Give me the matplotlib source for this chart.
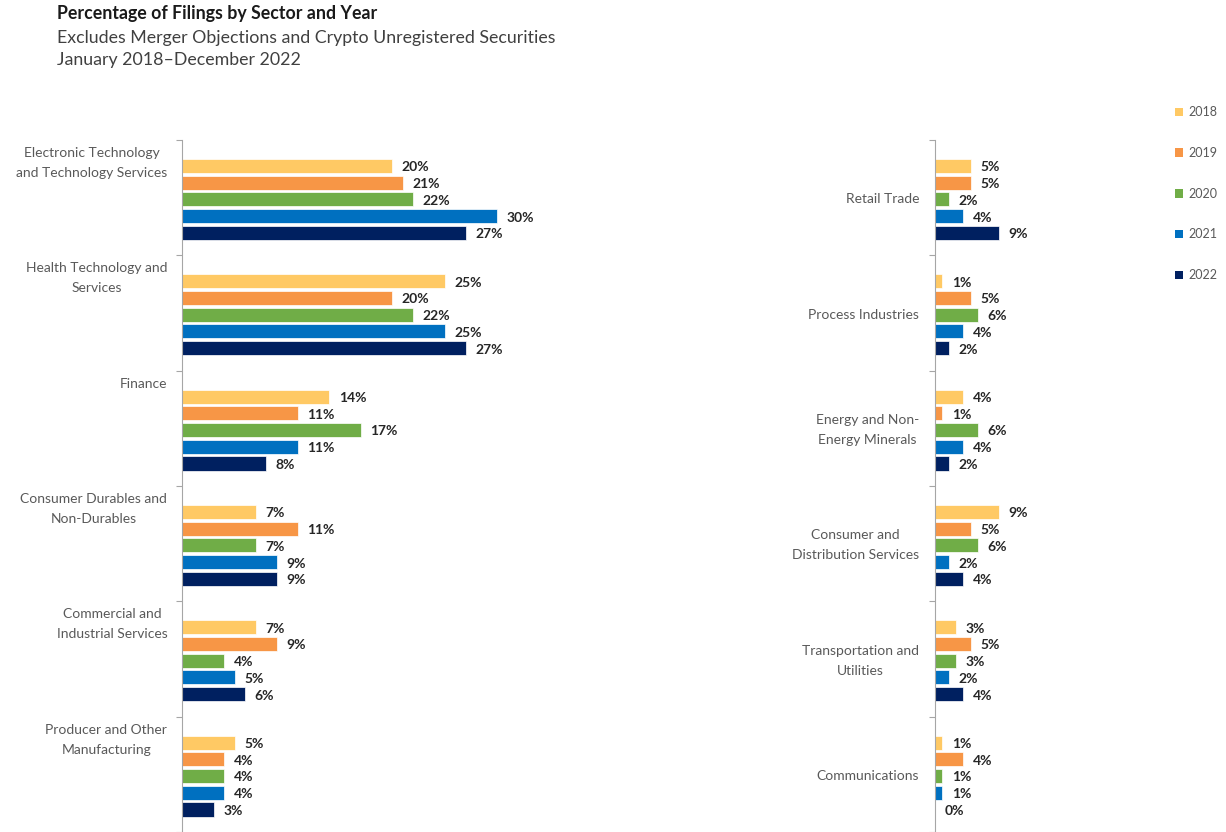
import matplotlib.pyplot as plt
from matplotlib.patches import Patch

# Sector share of filings (%), one list per year
years = ['2018', '2019', '2020', '2021', '2022']
colors = ['#FFC964', '#F79646', '#70AD47', '#0070C0', '#002060']

left_sectors = ['Electronic Technology\nand Technology Services',
                'Health Technology and\nServices',
                'Finance',
                'Consumer Durables and\nNon-Durables',
                'Commercial and\nIndustrial Services',
                'Producer and Other\nManufacturing']
left_2018 = [20, 25, 14, 7, 7, 5]
left_2019 = [21, 20, 11, 11, 9, 4]
left_2020 = [22, 22, 17, 7, 4, 4]
left_2021 = [30, 25, 11, 9, 5, 4]
left_2022 = [27, 27, 8, 9, 6, 3]

right_sectors = ['Retail Trade',
                 'Process Industries',
                 'Energy and Non-\nEnergy Minerals',
                 'Consumer and\nDistribution Services',
                 'Transportation and\nUtilities',
                 'Communications']
right_2018 = [5, 1, 4, 9, 3, 1]
right_2019 = [5, 5, 1, 5, 5, 4]
right_2020 = [2, 6, 6, 6, 3, 1]
right_2021 = [4, 4, 4, 2, 2, 1]
right_2022 = [9, 2, 2, 4, 4, 0]

left_values = [left_2018, left_2019, left_2020, left_2021, left_2022]
right_values = [right_2018, right_2019, right_2020, right_2021, right_2022]

plt.rcParams['font.family'] = ['Lato', 'DejaVu Sans']

fig = plt.figure(figsize=(12.26, 8.32), dpi=100)
W, H = 1226, 832

ax_left = fig.add_axes([182 / W, 0.0, 420 / W, 692 / H])
ax_right = fig.add_axes([935 / W, 0.0, 213 / W, 692 / H])

first_offset = 0.225
step = 0.145
bar_h = 0.122


def draw_panel(ax, sectors, values, xmax, label_mode):
    n = len(sectors)
    for j, (yr, col) in enumerate(zip(years, colors)):
        ys = [i + first_offset + j * step for i in range(n)]
        ax.barh(ys, values[j], height=bar_h, color=col,
                edgecolor='white', linewidth=0.5)
        for y, v in zip(ys, values[j]):
            ax.annotate(f'{v}%', xy=(v, y), xytext=(7, -1),
                        textcoords='offset points', ha='left', va='center',
                        fontsize=10, fontweight='bold', color='#262626')
    ax.set_xlim(0, xmax)
    ax.set_ylim(n, 0)
    for s in ['top', 'right', 'bottom']:
        ax.spines[s].set_visible(False)
    ax.spines['left'].set_color('#A6A6A6')
    ax.set_xticks([])
    ax.set_yticks(range(n + 1))
    ax.set_yticklabels([])
    ax.tick_params(axis='y', direction='out', length=4, color='#A6A6A6')
    for i, name in enumerate(sectors):
        if label_mode == 'top':
            ax.text(-0.035, i + 0.06, name, transform=ax.get_yaxis_transform(),
                    ha='right', va='top', fontsize=10, color='#595959',
                    multialignment='center', linespacing=1.8)
        else:
            ax.text(-0.075, i + first_offset + 2 * step, name,
                    transform=ax.get_yaxis_transform(),
                    ha='right', va='center', fontsize=10, color='#595959',
                    multialignment='center', linespacing=1.8)


draw_panel(ax_left, left_sectors, left_values, 40, 'top')
draw_panel(ax_right, right_sectors, right_values, 30, 'center')

# Titles
fig.text(57 / W, 1 - 14 / H, 'Percentage of Filings by Sector and Year',
         fontsize=12.8, fontweight='bold', color='#1a1a1a', va='center')
fig.text(57 / W, 1 - 38 / H,
         'Excludes Merger Objections and Crypto Unregistered Securities',
         fontsize=12.8, color='#404040', va='center')
fig.text(57 / W, 1 - 60 / H, 'January 2018\u2013December 2022',
         fontsize=12.8, color='#404040', va='center')

# Legend
handles = [Patch(facecolor=c, edgecolor='none', label=y)
           for y, c in zip(years, colors)]
fig.legend(handles=handles, loc='upper left',
           bbox_to_anchor=(1164 / W, 1 - 95 / H), frameon=False,
           fontsize=9, labelcolor='#595959', handlelength=0.65,
           handleheight=0.65, handletextpad=0.4, labelspacing=2.3)

fig.savefig('out.png', dpi=100)
